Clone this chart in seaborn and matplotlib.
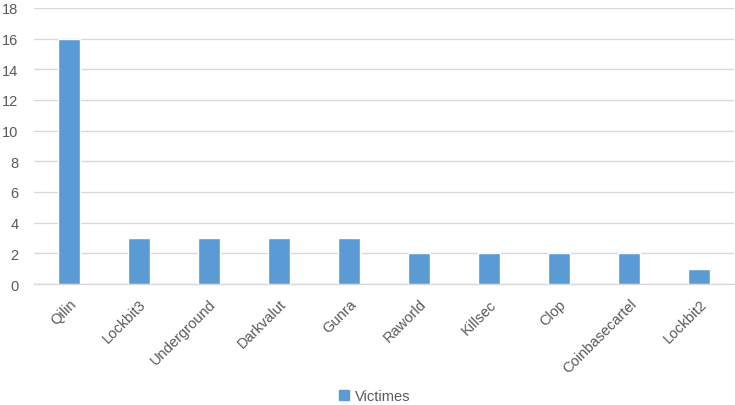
import pandas as pd
import seaborn as sns
import matplotlib.pyplot as plt
from matplotlib.patches import Patch

groups = ['Qilin', 'Lockbit3', 'Underground', 'Darkvalut', 'Gunra',
          'Raworld', 'Killsec', 'Clop', 'Coinbasecartel', 'Lockbit2']
victimes = [16, 3, 3, 3, 3, 2, 2, 2, 2, 1]

df = pd.DataFrame({'groupe': groups, 'Victimes': victimes})

sns.set_style('white')
plt.rcParams['font.family'] = ['Liberation Sans', 'DejaVu Sans']

bar_color = '#5B9BD5'
text_color = '#595959'
grid_color = '#D9D9D9'

fig = plt.figure(figsize=(7.35, 4.06), dpi=100)
ax = fig.add_axes([0.046, 0.298, 0.953, 0.68])

sns.barplot(data=df, x='groupe', y='Victimes', color=bar_color,
            width=0.31, saturation=1, ax=ax, zorder=3)

ax.set_ylim(0, 18)
ax.set_yticks(range(0, 19, 2))
ax.set_xlim(-0.5, len(groups) - 0.5)
ax.yaxis.grid(True, color=grid_color, linewidth=1, zorder=0)
ax.set_axisbelow(True)
for side in ['top', 'right', 'left']:
    ax.spines[side].set_visible(False)
ax.spines['bottom'].set_color(grid_color)
ax.spines['bottom'].set_linewidth(1)

ax.set_xlabel('')
ax.set_ylabel('')
ax.tick_params(axis='both', length=0, colors=text_color, labelsize=10.5)
ax.tick_params(axis='y', pad=11)
ax.tick_params(axis='x', pad=9)
plt.setp(ax.get_xticklabels(), rotation=45, ha='right',
         rotation_mode='anchor')

fig.legend(handles=[Patch(color=bar_color, label='Victimes')],
           loc='center', bbox_to_anchor=(0.51, 0.022), frameon=False,
           handlelength=0.7, handleheight=0.7, handletextpad=0.4,
           fontsize=10.5, labelcolor=text_color)

fig.savefig('out.png', dpi=100)
